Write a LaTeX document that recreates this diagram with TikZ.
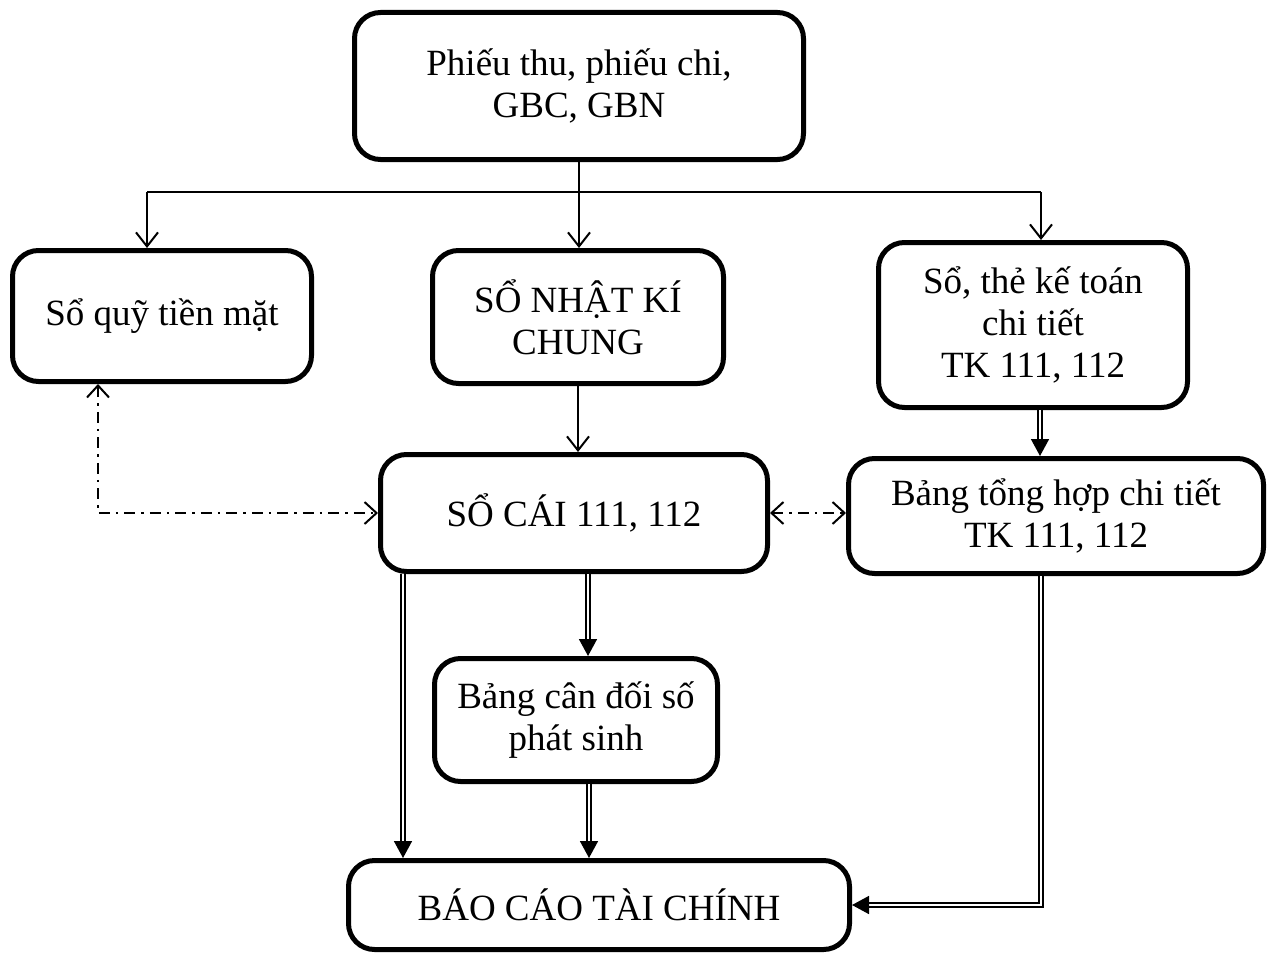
\documentclass[tikz,border=0pt]{standalone}
\usepackage{fontspec}
\setmainfont{Liberation Serif}
\usetikzlibrary{arrows.meta,calc}
\begin{document}
\begin{tikzpicture}[x=1pt,y=-1pt,
  box/.style={draw, line width=5pt, rounded corners=26pt, align=center,
    font=\fontsize{37}{42}\selectfont, inner sep=0pt},
  thinline/.style={line width=2pt},
  openarr/.style={thinline, -{Straight Barb[length=14pt,width=22pt]}},
  dbl/.style={double, double distance=2.5pt, line width=1.6pt,
    -{Triangle[length=17pt,width=18pt]}},
  dashdot/.style={thinline, dash pattern=on 11pt off 6pt on 2.5pt off 6pt,
    {Straight Barb[length=12pt,width=22pt]}-{Straight Barb[length=12pt,width=22pt]}}
]
\useasboundingbox (0,0) rectangle (1276,955);

% boxes
\node[box, minimum width=449pt, minimum height=147pt] (top) at (579,86)
  {Phiếu thu, phiếu chi,\\GBC, GBN};
\node[box, minimum width=299pt, minimum height=131pt] (quy) at (162,316)
  {Sổ quỹ tiền mặt};
\node[box, minimum width=291pt, minimum height=133pt] (nkc) at (578,317)
  {SỔ NHẬT KÍ\\CHUNG};
\node[box, minimum width=309pt, minimum height=165pt] (ct) at (1033,325)
  {Sổ, thẻ kế toán\\chi tiết\\TK 111, 112};
\node[box, minimum width=387pt, minimum height=117pt] (sc) at (574,513)
  {SỔ CÁI 111, 112};
\node[box, minimum width=415pt, minimum height=115pt] (bth) at (1056,516)
  {Bảng tổng hợp chi tiết\\TK 111, 112};
\node[box, minimum width=283pt, minimum height=123pt] (cd) at (576,720)
  {Bảng cân đối số\\phát sinh};
\node[box, minimum width=501pt, minimum height=89pt] (bc) at (599,905)
  {BÁO CÁO TÀI CHÍNH};

% distribution from the source documents
\coordinate (bl) at (147,192);
\coordinate (br) at (1041,192);
\draw[thinline] (bl) -- (br);
\draw[openarr] (top.south) -- (top.south |- nkc.north);
\draw[openarr] (bl) -- (bl |- quy.north);
\draw[openarr] (br) -- (br |- ct.north);
\draw[openarr] (nkc.south) -- (nkc.south |- sc.north);

% cross-checks
\draw[dashdot] ([xshift=-64pt]quy.south) |- (sc.west);
\draw[dashdot] (sc.east) -- (sc.east -| bth.west);

% summary flows
\draw[dbl] ([xshift=7pt]ct.south) -- ([xshift=7pt]ct.south |- bth.north);
\draw[dbl] ([xshift=-171pt]sc.south) -- ([xshift=-171pt]sc.south |- bc.north);
\draw[dbl] ([xshift=14pt]sc.south) -- ([xshift=14pt]sc.south |- cd.north);
\draw[dbl] ([xshift=13pt]cd.south) -- ([xshift=13pt]cd.south |- bc.north);
\draw[dbl] ([xshift=-15pt]bth.south) |- (bc.east);
\end{tikzpicture}
\end{document}
